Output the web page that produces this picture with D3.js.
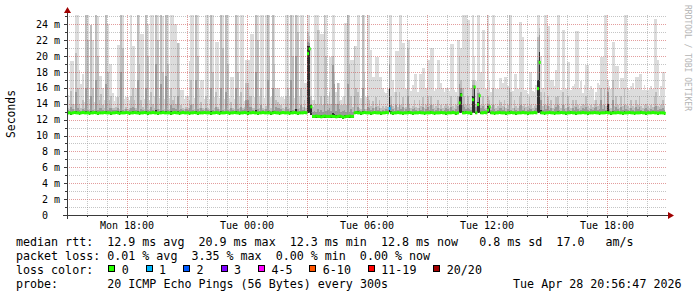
<!DOCTYPE html>
<html><head><meta charset="utf-8">
<script src="https://cdn.jsdelivr.net/npm/d3@7"></script>
<style>
html,body{margin:0;padding:0;background:#fff;}
svg{display:block;}
text{font-family:"DejaVu Sans Mono",monospace;}
</style></head><body>
<svg id="c" width="697" height="297"></svg>
<script>
// ---- DATA (ms) : one row = one hour, 12 steps of 300 s, first step Mon 15:00 ----
const pingMax = [
15.1,14.5,19.4,19.4,14.0,26,26,18.3,16.5,17.8,14.2,26,
26,14.6,23.9,22.0,14.2,26,25,17.5,17.5,16.0,14.5,26,
24,19.0,19.0,15.3,14.3,14.9,21.4,21.4,26,26,14.6,14.9,
14.8,14.5,26,21.3,21.3,16.0,26,26,22.8,22.8,14.6,26,
24,14.5,26,26,15.0,26,26,14.7,26,25,14.6,26,
26,14.7,26,26,24.0,24.0,21.6,21.6,15.7,15.7,14.6,15.0,
15.0,19.4,26,26,14.7,26,26,15.8,17.0,17.0,14.6,26,
26,14.6,26,26,14.8,21.8,21.8,14.7,26,26,14.6,26,
26,14.7,17.4,17.4,14.6,26,26,14.8,26,26,14.4,19.5,
19.5,19.5,22.8,22.8,14.8,26,26,14.9,26,26,14.7,26,
26,26,14.8,26,26,16.0,16.0,16.0,14.9,14.9,14.6,26,
26,14.8,26,26,14.7,26,26,14.9,26,26,16.6,16.6,
26,26,21.0,14.5,26,26,26,23.3,22.8,22.8,26,26,
15.0,19.9,19.9,26,26,15.5,16.6,16.6,14.5,14.8,24.1,24.1,
26,26,19.5,19.5,21.2,21.2,26,26,14.7,26,26,14.8,
26,26,20.8,17.4,17.4,19.9,19.9,17.4,17.4,16.0,15.5,15.3,
15.8,26,26,17.0,15.5,20.6,20.6,26,26,21.6,21.6,15.8,
22.0,22.0,15.6,16.3,17.8,17.8,15.5,17.8,17.8,18.5,18.5,16.0,
19.5,19.5,21.0,21.0,15.6,15.8,19.5,19.5,16.6,16.0,15.5,16.0,
16.0,15.6,21.5,21.5,15.7,15.5,22.0,22.0,21.0,26,26,26,
24.5,24.5,16.0,26,20.0,16.8,26,26,18.0,23.3,23.3,15.9,
26,17.0,15.5,26,26,15.8,15.8,17.2,17.2,16.6,17.4,17.4,
16.2,26,26,15.6,17.8,17.8,15.8,24.3,24.3,22.4,15.7,15.7,
15.2,18.0,18.0,15.6,15.5,16.4,26,26,20.0,16.0,26,26,
23.8,23.8,17.0,17.0,16.2,18.2,26,26,15.7,23.3,23.3,15.8,
19.3,19.3,15.7,16.2,16.5,23.1,23.1,15.8,16.8,15.3,16.4,18.9,
18.9,15.7,16.2,15.9,14.5,15.5,16.6,16.3,19.9,19.9,26,26,
17.0,16.2,15.8,21.8,21.8,18.7,18.7,15.8,17.2,17.2,26,26,
16.0,15.7,16.2,16.6,15.8,17.4,17.4,17.8,17.8,15.7,16.4,15.7,
15.7,15.8,16.2,15.9,24.7,24.7,19.5,15.0,16.2,18.0,18.0,null
];
const ping2 = [
13.4,13.3,15.6,14.0,13.3,20.4,16.0,14.0,13.4,14.5,13.4,26,
22,13.3,23.9,16,13.3,26,20,14.5,15.2,13.8,13.4,26,
18,14.5,15.0,13.4,13.5,13.6,14.8,13.3,26,21,13.3,13.6,
13.3,13.5,15.0,16.0,14.5,13.4,26,19,14.5,13.6,13.3,26,
20,13.3,15.5,14,13.4,26,22,13.3,26,18,13.3,26,
19,13.3,16.0,14.5,15.0,14.0,21.6,16,13.9,13.4,13.3,13.6,
13.5,14.5,17.0,14,13.3,26,20,13.4,14.2,13.5,13.3,15.0,
13.5,13.3,26,18,13.4,15.5,13.6,13.3,26,21,13.3,26,
19,13.3,14.2,13.5,13.3,26,18,13.4,15.5,13.5,13.6,16.6,
16.6,15.0,15.0,13.5,13.4,26,22,13.4,16.0,13.5,13.3,13.7,
26,20,13.4,26,19,14.5,14.2,14.0,13.8,13.4,13.3,15.0,
16,13.4,26,20,13.3,26,23,13.4,16.0,13.6,14.5,13.4,
23.0,22.5,15.0,13.6,14.5,14.0,23.3,13.8,15.0,13.9,26,20,
14.0,15.5,14.0,20.0,18.0,14.0,16.6,14.3,13.8,13.9,15.0,13.9,
26,19,15.0,13.6,21.2,16,15.5,13.4,13.3,26,18,13.3,
15.0,14.5,13.7,14.3,13.5,14.8,13.7,14.5,13.5,13.7,13.4,13.7,
13.6,20.0,15.0,13.7,13.5,15.5,13.6,15.5,13.8,14.8,13.5,13.6,
21.0,14.0,13.5,13.7,14.5,13.6,13.4,14.5,13.7,14.8,13.5,13.8,
15.0,13.7,15.0,13.9,13.4,13.7,14.5,13.5,13.9,13.4,13.7,14.0,
13.7,13.5,15.0,13.7,13.4,13.8,15.0,20.0,17.0,16.0,15.0,13.8,
15.0,13.8,13.6,17.0,17.0,14.0,16.0,15.5,13.8,15.0,13.8,13.5,
15.0,14.5,13.6,16.0,13.8,13.5,13.7,14.5,14.2,13.7,14.5,13.5,
13.8,26,15.5,13.5,14.5,13.7,13.4,15.0,15.5,13.7,14.0,13.6,
13.7,14.8,13.8,13.5,13.7,13.9,22.4,23.5,15.5,13.7,15.5,13.8,
15.0,13.7,14.5,13.5,13.8,14.8,15.0,13.7,13.4,15.5,13.8,13.5,
15.0,13.7,13.4,14.5,13.7,14.5,13.8,13.5,13.7,14.0,13.8,15.0,
13.7,13.4,13.8,13.6,14.0,14.5,13.7,13.8,16.0,13.8,16.0,13.7,
16.0,13.8,13.5,17.0,13.7,15.0,13.8,13.5,15.0,13.7,16.0,13.8,
13.7,13.4,14.5,13.7,13.5,14.5,13.8,15.0,13.7,13.4,13.8,14.0,
13.7,13.5,13.8,13.6,15.0,15.5,13.7,13.6,13.8,14.5,13.7,null
];
const ping3 = [
13.2,13.1,13.6,13.3,13.1,15.5,13.5,13.2,13.1,13.3,13.2,16.0,
13.2,13.1,15.0,13.2,13.1,17.0,13.2,13.4,13.5,13.2,13.1,16.5,
13.2,13.4,13.5,13.2,13.2,13.2,13.5,13.1,18.0,13.2,13.1,13.3,
13.1,13.2,13.5,13.6,13.4,13.2,17.0,13.1,13.3,13.2,13.1,16.0,
13.2,13.1,13.6,13.2,13.1,19.0,13.3,13.1,16.5,13.2,13.1,17.5,
13.2,13.1,13.8,13.4,13.5,13.3,15.0,13.2,13.3,13.2,13.1,13.3,
13.2,13.4,13.8,13.2,13.1,17.0,13.3,13.1,13.4,13.2,13.1,13.5,
13.2,13.1,16.0,13.2,13.1,13.6,13.3,13.1,16.0,13.2,13.1,15.5,
13.2,13.1,13.4,13.2,13.1,16.0,13.3,13.1,13.6,13.2,13.3,14.5,
14.5,13.6,13.6,13.2,13.1,18.0,13.3,13.1,13.8,13.2,13.1,13.3,
17.0,13.2,13.1,16.0,13.2,13.6,13.5,13.4,13.3,13.1,13.1,13.6,
13.3,13.1,17.0,13.2,13.1,20.0,13.3,13.1,13.8,13.2,13.6,13.1,
21.8,21.6,14.0,13.0,13.1,13.0,13.3,13.0,13.2,13.0,15.0,13.1,
13.2,13.4,13.1,18.9,16.5,13.1,14.0,13.3,13.0,13.1,13.2,13.0,
16.5,13.0,13.3,13.0,15.0,13.1,13.6,13.2,13.1,16.0,13.3,13.1,
13.6,13.5,13.2,13.4,13.1,13.6,13.2,13.5,13.1,13.2,13.1,13.3,
13.2,19.0,13.8,13.3,13.1,13.8,13.2,13.8,13.3,13.6,13.1,13.3,
15.0,13.4,13.1,13.3,13.5,13.2,13.1,13.5,13.2,13.6,13.1,13.3,
13.6,13.2,13.8,13.3,13.1,13.2,13.5,13.1,13.3,13.1,13.2,13.4,
13.3,13.1,13.6,13.2,13.1,13.3,13.7,16.5,16.0,13.8,13.6,13.3,
13.5,13.3,13.2,16.4,16.4,13.6,15.3,15.3,13.4,13.7,13.3,13.2,
14.0,13.9,13.2,13.8,13.3,13.1,13.2,13.5,13.4,13.2,13.6,13.1,
13.3,16.0,13.2,13.1,13.5,13.2,13.1,13.7,13.8,13.2,13.4,13.1,
13.2,13.5,13.3,13.1,13.2,13.4,19.5,22.6,14.5,13.2,13.8,13.3,
13.7,13.2,13.5,13.1,13.3,13.6,13.8,13.2,13.1,13.8,13.3,13.1,
13.6,13.2,13.1,13.4,13.2,13.6,13.3,13.1,13.2,13.4,13.3,13.6,
13.2,13.1,13.3,13.2,13.4,13.6,13.2,13.3,14.5,13.3,13.8,13.2,
15.5,13.3,13.1,14.5,13.2,13.6,13.3,13.1,13.6,13.2,13.8,13.3,
13.2,13.1,13.5,13.2,13.1,13.6,13.3,13.6,13.2,13.1,13.3,13.4,
13.2,13.1,13.3,13.2,13.6,13.7,13.2,13.3,13.3,13.5,13.2,null
];
const ping5 = [
13.0,12.95,13.0,13.0,12.95,13.05,13.0,12.95,13.0,13.0,12.95,13.1,
13.0,12.95,13.05,13.0,12.95,13.1,13.0,12.95,13.0,13.0,12.95,13.05,
13.0,12.95,13.0,13.0,12.95,13.0,13.05,12.95,13.1,13.0,12.95,13.0,
13.0,12.95,13.0,13.05,12.95,13.0,13.1,12.95,13.0,13.0,12.95,13.05,
13.0,12.95,13.0,13.0,12.95,13.2,13.0,12.95,13.05,13.0,12.95,13.1,
13.0,12.95,13.05,13.0,12.95,13.0,13.05,12.95,13.0,13.0,12.95,13.0,
13.0,12.95,13.0,13.0,12.95,13.1,13.0,12.95,13.0,13.0,12.95,13.0,
13.0,12.95,13.05,13.0,12.95,13.0,13.0,12.95,13.05,13.0,12.95,13.0,
13.0,12.95,13.0,13.0,12.95,13.05,13.0,12.95,13.0,13.0,12.95,13.0,
13.05,12.95,13.0,13.0,12.95,13.2,13.0,12.95,13.0,13.0,12.95,13.0,
13.1,12.95,13.0,13.05,12.95,13.0,13.0,12.95,13.0,13.0,12.95,13.0,
13.0,12.95,13.05,13.0,12.95,13.3,13.0,12.95,13.0,13.0,12.95,13.0,
21.3,21.2,13.8,12.55,12.6,12.55,12.6,12.55,12.55,12.6,12.6,12.55,
12.6,12.6,12.55,12.8,12.7,12.55,12.6,12.6,12.55,12.5,12.55,12.6,
12.6,12.6,12.55,12.6,13.0,13.0,13.05,12.95,13.0,13.05,13.0,12.95,
13.0,12.95,13.0,13.0,12.95,13.0,13.0,12.95,13.0,13.0,12.95,13.0,
13.0,16.0,13.1,12.95,13.0,13.0,13.05,13.0,12.95,13.0,13.0,13.0,
13.05,13.0,12.95,13.0,13.0,12.95,13.0,13.0,13.0,13.0,12.95,13.0,
13.0,13.0,13.05,13.0,12.95,13.0,13.0,12.95,13.0,13.0,13.0,13.0,
13.0,13.0,13.0,13.05,13.0,12.95,13.0,15.0,15.4,13.1,13.0,13.05,
13.0,13.0,12.95,15.0,16.2,13.0,14.2,15.1,13.0,13.0,13.05,13.0,
13.7,13.7,13.0,13.0,12.95,13.0,13.0,13.05,13.0,13.0,13.0,12.95,
13.0,13.05,13.0,12.95,13.0,13.0,12.95,13.0,13.0,13.0,13.0,13.0,
12.95,13.0,13.0,13.0,13.05,13.0,17.0,20.5,13.2,13.0,13.0,13.0,
13.0,13.0,13.0,12.95,13.0,13.0,13.05,13.0,13.0,13.0,13.0,12.95,
13.0,13.0,13.05,13.0,13.0,12.95,13.0,13.0,13.0,13.05,13.0,13.0,
12.95,13.0,13.0,13.0,13.05,13.0,13.0,12.95,13.0,13.0,13.0,13.05,
14.0,13.0,12.95,13.1,13.0,13.0,13.05,13.0,13.0,12.95,13.1,13.0,
13.0,13.05,13.0,13.0,12.95,13.0,13.0,13.0,13.05,13.0,13.0,12.95,
13.0,13.0,13.0,13.05,13.0,13.0,12.95,13.0,13.0,13.0,12.95,null
];
const pingMin = [
12.65,12.65,12.6,12.65,12.65,12.7,12.65,12.6,12.65,12.65,12.7,12.65,
12.65,12.6,12.65,12.65,12.7,12.65,12.6,12.65,12.65,12.65,12.7,12.65,
12.65,12.65,12.6,12.65,12.65,12.7,12.65,12.6,12.65,12.65,12.65,12.7,
12.65,12.6,12.65,12.65,12.7,12.65,12.65,12.6,12.65,12.65,12.7,12.65,
12.6,12.65,12.65,12.7,12.65,12.65,12.6,12.65,12.65,12.7,12.65,12.65,
12.65,12.65,12.6,12.65,12.7,12.65,12.65,12.6,12.65,12.7,12.65,12.65,
12.65,12.6,12.65,12.65,12.7,12.65,12.6,12.65,12.65,12.65,12.7,12.65,
12.65,12.65,12.6,12.65,12.65,12.7,12.65,12.6,12.65,12.65,12.65,12.7,
12.65,12.6,12.65,12.65,12.7,12.65,12.65,12.6,12.65,12.65,12.7,12.65,
12.6,12.65,12.65,12.7,12.65,12.65,12.6,12.65,12.65,12.7,12.65,12.65,
12.65,12.65,12.6,12.65,12.7,12.65,12.65,12.6,12.65,12.7,12.65,12.65,
12.65,12.6,12.65,12.65,12.7,12.65,12.6,12.65,12.65,12.65,12.7,12.65,
12.8,12.8,12.6,12.2,12.2,12.25,12.2,12.2,12.15,12.2,12.25,12.2,
12.2,12.2,12.25,12.2,12.2,12.15,12.2,12.25,12.2,12.1,12.15,12.2,
12.2,12.25,12.2,12.2,12.65,12.7,12.65,12.65,12.6,12.65,12.7,12.65,
12.65,12.65,12.6,12.65,12.7,12.65,12.65,12.65,12.6,12.65,12.65,12.7,
12.65,12.9,12.65,12.6,12.65,12.65,12.7,12.65,12.65,12.6,12.65,12.65,
12.65,12.7,12.65,12.6,12.65,12.65,12.65,12.7,12.65,12.65,12.6,12.65,
12.65,12.65,12.7,12.65,12.6,12.65,12.65,12.65,12.7,12.65,12.65,12.6,
12.65,12.65,12.65,12.7,12.65,12.6,12.65,12.8,12.8,12.65,12.65,12.7,
12.65,12.65,12.6,12.8,12.8,12.65,12.8,12.8,12.65,12.65,12.7,12.65,
12.8,12.8,12.65,12.65,12.6,12.65,12.65,12.7,12.65,12.65,12.65,12.6,
12.65,12.65,12.7,12.65,12.65,12.6,12.65,12.65,12.65,12.7,12.65,12.65,
12.6,12.65,12.65,12.65,12.7,12.65,12.8,12.8,12.65,12.65,12.6,12.65,
12.65,12.7,12.65,12.65,12.6,12.65,12.65,12.65,12.7,12.65,12.65,12.6,
12.65,12.65,12.7,12.65,12.65,12.6,12.65,12.65,12.65,12.7,12.65,12.65,
12.6,12.65,12.65,12.65,12.7,12.65,12.65,12.6,12.65,12.65,12.65,12.7,
12.65,12.65,12.6,12.65,12.65,12.65,12.7,12.65,12.65,12.6,12.65,12.65,
12.65,12.7,12.65,12.65,12.6,12.65,12.65,12.65,12.7,12.65,12.65,12.6,
12.65,12.65,12.65,12.7,12.65,12.65,12.6,12.65,12.65,12.65,12.6,null
];
const median = [
12.85,12.85,12.8,12.85,12.9,12.85,12.85,12.8,12.85,12.9,12.85,12.85,
12.85,12.8,12.85,12.85,12.9,12.85,12.8,12.85,12.85,12.85,12.9,12.85,
12.85,12.85,12.8,12.85,12.85,12.9,12.85,12.8,12.85,12.85,12.85,12.9,
12.85,12.8,12.85,12.85,12.9,12.85,12.85,12.8,12.85,12.85,12.9,12.85,
12.8,12.85,12.85,12.9,12.85,12.85,12.8,12.85,12.85,12.9,12.85,12.85,
12.85,12.85,12.8,12.85,12.9,12.85,12.85,12.8,12.85,12.9,12.85,12.85,
12.85,12.8,12.85,12.85,12.9,12.85,12.8,12.85,12.85,12.85,12.9,12.85,
12.85,12.85,12.8,12.85,12.85,12.9,12.85,12.8,12.85,12.85,12.85,12.9,
12.85,12.8,12.85,12.85,12.9,12.85,12.85,12.8,12.85,12.85,12.9,12.85,
12.8,12.85,12.85,12.9,12.85,12.85,12.8,12.85,12.85,12.9,12.85,12.85,
12.85,12.85,12.8,12.85,12.9,12.85,12.85,12.8,12.85,12.9,12.85,12.85,
12.85,12.8,12.85,12.85,12.9,12.85,12.8,12.85,12.85,12.85,12.9,12.85,
20.3,20.9,13.6,12.4,12.4,12.45,12.4,12.4,12.35,12.4,12.45,12.4,
12.4,12.4,12.45,12.4,12.4,12.35,12.4,12.45,12.4,12.3,12.35,12.4,
12.4,12.45,12.4,12.4,12.85,12.9,12.85,12.85,12.8,12.85,12.9,12.85,
12.85,12.85,12.8,12.85,12.9,12.85,12.85,12.85,12.8,12.85,12.85,12.9,
12.85,13.4,12.85,12.8,12.85,12.85,12.9,12.85,12.85,12.8,12.85,12.85,
12.85,12.9,12.85,12.8,12.85,12.85,12.85,12.9,12.85,12.85,12.8,12.85,
12.85,12.85,12.9,12.85,12.8,12.85,12.85,12.85,12.9,12.85,12.85,12.8,
12.85,12.85,12.85,12.9,12.85,12.8,12.85,14.1,15.1,12.85,12.85,12.9,
12.85,12.85,12.8,14.5,16.1,12.85,13.9,15.0,12.85,12.85,12.9,12.85,
13.2,13.6,12.85,12.85,12.8,12.85,12.85,12.9,12.85,12.85,12.85,12.8,
12.85,12.85,12.9,12.85,12.85,12.8,12.85,12.85,12.85,12.9,12.85,12.85,
12.8,12.85,12.85,12.85,12.9,12.85,15.9,19.2,12.85,12.85,12.8,12.85,
12.85,12.9,12.85,12.85,12.8,12.85,12.85,12.85,12.9,12.85,12.85,12.8,
12.85,12.85,12.9,12.85,12.85,12.8,12.85,12.85,12.85,12.9,12.85,12.85,
12.8,12.85,12.85,12.85,12.9,12.85,12.85,12.8,12.85,12.85,12.85,12.9,
12.85,12.85,12.8,12.85,12.85,12.85,12.9,12.85,12.85,12.8,12.85,12.85,
12.85,12.9,12.85,12.85,12.8,12.85,12.85,12.85,12.9,12.85,12.85,12.8,
12.85,12.85,12.85,12.9,12.85,12.85,12.8,12.85,12.85,12.85,12.8,null
];
// loss (pings lost out of 20) — only non-zero steps listed
const lossStep = [193];
const lossCount = [1];

const yTicks = [0,2,4,6,8,10,12,14,16,18,20,22,24];
const xLabelHours = [3,9,15,21,27];           // hours after start: Mon 18:00 ... Tue 18:00
const lossLabels = ["0","1","2","3","4-5","6-10","11-19","20/20"];
const lossColors = ["#26ff00","#00b8ff","#0059ff","#7e00ff","#ff00ff","#ff5500","#ff0000","#a10000"];
const legendRows = [
  "median rtt:  12.9 ms avg  20.9 ms max  12.3 ms min  12.8 ms now   0.8 ms sd  17.0   am/s",
  "packet loss: 0.01 % avg  3.35 % max  0.00 % min  0.00 % now"
];
const probeText = "20 ICMP Echo Pings (56 Bytes) every 300s";
const stampText = "Tue Apr 28 20:56:47 2026";

// ---- CHART ----
const start = new Date(2026, 3, 27, 15, 0, 0);
const STEP = 300 * 1000;
const N = pingMax.length;
const tAt = i => new Date(+start + i * STEP);

const svg = d3.select("#c");
const x = d3.scaleTime().domain([start, new Date(+start + 30 * 3600e3)]).range([67, 667]);
const y = d3.scaleLinear().domain([0, 25.16]).range([215, 15]);

svg.append("defs").append("clipPath").attr("id", "plot")
  .append("rect").attr("x", 67).attr("y", 15).attr("width", 600).attr("height", 200);

const gData = svg.append("g").attr("clip-path", "url(#plot)");
const layers = [
  {top: pingMax, color: "#dcdcdc"},
  {top: ping2, color: "#bebebe"},
  {top: ping3, color: "#9a9a9a"},
  {top: ping5, color: "#2e2e2e"}
];
const area = d3.area().x(d => x(d.t)).y0(d => y(d.lo)).y1(d => y(d.hi)).curve(d3.curveStepAfter);
layers.forEach(L => {
  const pts = [];
  for (let i = 0; i < N; i++) {
    if (L.top[i] == null) continue;
    pts.push({t: tAt(i), lo: pingMin[i], hi: L.top[i]});
  }
  const last = pts[pts.length - 1];
  pts.push({t: new Date(+last.t + STEP), lo: last.lo, hi: last.hi});
  gData.append("path").datum(pts).attr("fill", L.color)
    .attr("shape-rendering", "crispEdges").attr("d", area);
});

// grid (drawn over the smoke like rrdtool)
const grid = svg.append("g").attr("stroke-dasharray", "1,1").attr("shape-rendering", "crispEdges");
d3.range(1, 26).forEach(v => {
  const yy = Math.round(y(v)) + 0.5;
  grid.append("line").attr("x1", 67).attr("x2", 667).attr("y1", yy).attr("y2", yy)
    .attr("stroke", v % 2 === 0 ? "rgba(200,60,60,0.5)" : "rgba(140,140,140,0.5)");
});
d3.range(1, 30).forEach(h => {
  const xx = Math.round(x(new Date(+start + h * 3600e3))) + 0.5;
  const major = (15 + h) % 3 === 0;
  grid.append("line").attr("x1", xx).attr("x2", xx).attr("y1", 15).attr("y2", 215)
    .attr("stroke", major ? "rgba(200,60,60,0.5)" : "rgba(140,140,140,0.5)");
});

// median line, coloured by loss
const lossOf = i => { const k = lossStep.indexOf(i); return k < 0 ? 0 : lossCount[k]; };
const colorOf = l => l === 0 ? lossColors[0] : l === 1 ? lossColors[1] : l === 2 ? lossColors[2] :
  l === 3 ? lossColors[3] : l <= 5 ? lossColors[4] : l <= 10 ? lossColors[5] : l <= 19 ? lossColors[6] : lossColors[7];
const gMed = svg.append("g").attr("clip-path", "url(#plot)");
for (let i = 0; i < N; i++) {
  if (median[i] == null) continue;
  const x0 = x(tAt(i)), x1 = x(tAt(i + 1));
  gMed.append("rect").attr("x", x0).attr("width", x1 - x0 + 0.4)
    .attr("y", y(median[i]) - 1.5).attr("height", 3).attr("fill", colorOf(lossOf(i)));
}

// axes
const axisCol = "#3a3a3a";
svg.append("line").attr("x1", 63).attr("x2", 670).attr("y1", 215.5).attr("y2", 215.5).attr("stroke", axisCol);
svg.append("line").attr("x1", 67.5).attr("x2", 67.5).attr("y1", 219).attr("y2", 12).attr("stroke", axisCol);
svg.append("path").attr("d", "M67.5,7 L64,13 L71,13 Z").attr("fill", "#a00000");
svg.append("path").attr("d", "M674,215.5 L668,212 L668,219 Z").attr("fill", "#a00000");
d3.range(1, 26).forEach(v => {
  const yy = Math.round(y(v)) + 0.5;
  svg.append("line").attr("x1", v % 2 ? 65 : 64).attr("x2", 67).attr("y1", yy).attr("y2", yy).attr("stroke", axisCol);
});
d3.range(1, 30).forEach(h => {
  const xx = Math.round(x(new Date(+start + h * 3600e3))) + 0.5;
  svg.append("line").attr("x1", xx).attr("x2", xx).attr("y1", 216).attr("y2", (15 + h) % 3 ? 217 : 218).attr("stroke", axisCol);
});

// y labels
yTicks.forEach(v => {
  const yy = y(v) + 3.6;
  if (v === 0) {
    svg.append("text").attr("x", 48).attr("y", yy).attr("text-anchor", "end").attr("font-size", 10).text("0");
  } else {
    svg.append("text").attr("x", 60).attr("y", yy).attr("text-anchor", "end").attr("font-size", 10)
      .style("white-space", "pre").text(v + " m");
  }
});
// x labels
const fmt = d3.timeFormat("%a %H:%M");
xLabelHours.forEach(h => {
  const t = new Date(+start + h * 3600e3);
  svg.append("text").attr("x", x(t)).attr("y", 228.5).attr("text-anchor", "middle")
    .attr("font-size", 10).style("white-space", "pre").text(fmt(t));
});

svg.append("text").attr("transform", "translate(14.5,114) rotate(-90)").attr("text-anchor", "middle")
  .attr("font-size", 11.4).text("Seconds");
svg.append("text").attr("transform", "translate(684.5,5) rotate(90)").attr("font-size", 8)
  .attr("fill", "#b4b4b4").style("white-space", "pre").text("RRDTOOL / TOBI OETIKER");

// legend
const LF = 11.66, CW = 7.02, LX = 16, B0 = 245.5, LH = 14;
legendRows.forEach((r, k) => {
  svg.append("text").attr("x", LX).attr("y", B0 + k * LH).attr("font-size", LF)
    .style("white-space", "pre").text(r);
});
svg.append("text").attr("x", LX).attr("y", B0 + 2 * LH).attr("font-size", LF).text("loss color:");
let cx = 108.3;
lossLabels.forEach((lab, k) => {
  svg.append("rect").attr("x", Math.round(cx) + 0.5).attr("y", 265.5).attr("width", 6).attr("height", 6)
    .attr("fill", lossColors[k]).attr("stroke", "#000");
  svg.append("text").attr("x", cx + 13.4).attr("y", B0 + 2 * LH).attr("font-size", LF).text(lab);
  cx = cx + 13.4 + lab.length * CW + 17;
});
svg.append("text").attr("x", LX).attr("y", B0 + 3 * LH).attr("font-size", LF).text("probe:");
svg.append("text").attr("x", LX + 13 * CW).attr("y", B0 + 3 * LH).attr("font-size", LF).text(probeText);
svg.append("text").attr("x", 681.5).attr("y", B0 + 3 * LH).attr("font-size", LF).attr("text-anchor", "end").text(stampText);
</script>
</body></html>
